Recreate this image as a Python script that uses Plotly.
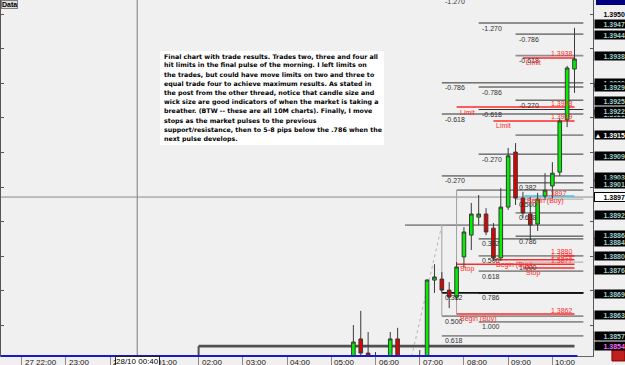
import plotly.graph_objects as go

# ---------------- data ----------------
# bar times in minutes after 27 Oct 22:00 (10-minute bars)
bar_time = [450, 460, 470, 480, 500, 510, 540, 550, 560, 570, 580, 590, 600, 610,
            620, 630, 640, 650, 660, 670, 680, 690, 700, 710, 720, 730, 740, 750]
bar_open = [1.38480, 1.38561, 1.38520, 1.38494, 1.38490, 1.38561, 1.38480, 1.38471,
            1.38731, 1.38734, 1.38702, 1.38682, 1.38798, 1.38861, 1.38913, 1.38922,
            1.38881, 1.38795, 1.38942, 1.39101, 1.38968, 1.38922, 1.38893, 1.38974,
            1.39003, 1.39043, 1.39194, 1.39341]
bar_high = [1.38601, 1.38642, 1.38581, 1.38523, 1.38581, 1.38593, 1.38529, 1.38734,
            1.38777, 1.38754, 1.38725, 1.38783, 1.38884, 1.38954, 1.38977, 1.38939,
            1.38896, 1.38997, 1.39113, 1.39127, 1.38986, 1.38971, 1.38983, 1.39040,
            1.39072, 1.39199, 1.39350, 1.39460]
bar_low = [1.38460, 1.38490, 1.38480, 1.38470, 1.38470, 1.38480, 1.38460, 1.38465,
           1.38694, 1.38694, 1.38650, 1.38673, 1.38766, 1.38818, 1.38890, 1.38861,
           1.38786, 1.38786, 1.38934, 1.38948, 1.38910, 1.38847, 1.38873, 1.38962,
           1.38968, 1.39032, 1.39173, 1.39272]
bar_close = [1.38552, 1.38520, 1.38506, 1.38483, 1.38561, 1.38500, 1.38500, 1.38731,
             1.38740, 1.38702, 1.38682, 1.38769, 1.38870, 1.38922, 1.38922, 1.38870,
             1.38795, 1.38942, 1.39090, 1.38968, 1.38925, 1.38890, 1.38965, 1.38991,
             1.39040, 1.39191, 1.39344, 1.39370]

# fibonacci levels (price, start time, label, kind)
fib_price = [1.39553, 1.39474, 1.39442, 1.39380, 1.39301, 1.39289, 1.39251, 1.39224,
             1.39211, 1.39150, 1.39095, 1.39032, 1.39012, 1.38991, 1.38965, 1.38925,
             1.38890, 1.38850, 1.38858, 1.38801, 1.38783, 1.38757, 1.38694, 1.38694,
             1.38627, 1.38610, 1.38570, 1.38540]
fib_start = [570, 620, 670, 670, 570, 620, 670, 620, 570, 670, 620, 570, 670, 590,
             670, 670, 520, 620, 670, 620, 670, 620, 570, 620, 570, 620, 570, 240]
fib_label = ["-1.270", "-1.270", "-0.786", "-0.618", "-0.786", "-0.786", "-0.270",
             "-0.618", "-0.618", "", "-0.270", "-0.270", "0.382", "", "0.500", "0.618",
             "", "0.382", "0.786", "0.500", "1.000", "0.618", "0.382", "0.786", "0.500",
             "1.000", "0.618", ""]
fib_kind = ["dark", "gray", "dark", "gray", "dark", "dark", "dark", "dark", "dark",
            "gray", "dark", "dark", "dark", "gray", "light", "gray", "gray", "dark",
            "dark", "gray", "light", "gray", "heavy", "heavy", "gray", "gray", "gray",
            "base"]

# pending orders (red lines)
order_price = [1.39373, 1.39231, 1.39191, 1.38801, 1.38790, 1.38777, 1.38766, 1.38633]
order_start = [680, 590, 640, 735, 640, 590, 680, 590]
order_left = ["Limit", "Limit", "Limit", "", "Begin (Buy)", "Stop", "Stop", "Begin (Buy)"]
order_right = ["1.3938", "1.3923", "1.3919", "1.3880", "1.3879", "1.3877", "", "1.3862"]
entry_price, entry_start = 1.38974, 682

# fib anchors / trend line
anchor_time = [570, 590]
anchor_top = [1.38890, 1.38991]
anchor_bottom = [1.38627, 1.38633]
trend_x = [529, 570]
trend_y = [1.38510, 1.38890]

# right-axis price boxes
axis_prices = [1.3947, 1.3944, 1.3938, 1.3930, 1.3929, 1.3925, 1.3921, 1.3922, 1.3909,
               1.3903, 1.3901, 1.3892, 1.3884, 1.3886, 1.3880, 1.3876, 1.3869, 1.3863,
               1.3857]
bid_price = 1.3915
low_price = 1.3854
top_tick = 1.3950

hour_ticks = [0, 60, 120, 180, 240, 300, 360, 420, 480, 540, 600, 660, 720]
hour_labels = ["27 22:00", "23:00", "28 00:00", "01:00", "02:00", "03:00", "04:00",
               "05:00", "06:00", "07:00", "08:00", "09:00", "10:00"]
cross_time, cross_price = 156.7, 1.38971
cross_time_text = "28/10 00:40"

note_lines = [
    "Final chart with trade results. Trades two, three and four all",
    "hit limits in the final pulse of the morning. I left limits on",
    "the trades, but could have move limits on two and three to",
    "equal trade four to achieve maximum results. As stated in",
    "the post from the other thread, notice that candle size and",
    "wick size are good indicators of when the market is taking a",
    "breather. (BTW -- these are all 10M charts). Finally, I move",
    "stops as the market pulses to the previous",
    "support/resistance, then to 5-8 pips below the .786 when the",
    "next pulse develops.",
]

# ---------------- figure ----------------
Y_LO, Y_HI = 1.385116, 1.395405
X_LO, X_HI = -28.1, 775.1
LINE_END = 762
LAST_BAR = 750
FONT = "Liberation Sans"
BG = "#f0f0f0"
PLOT_H = 356.0

fig = go.Figure()
fig.add_trace(go.Candlestick(
    x=bar_time, open=bar_open, high=bar_high, low=bar_low, close=bar_close,
    increasing=dict(fillcolor="#00f000", line=dict(color="#3a3a3a", width=1)),
    decreasing=dict(fillcolor="#e00000", line=dict(color="#3a3a3a", width=1)),
    whiskerwidth=0, showlegend=False, hoverinfo="skip"))

styles = {
    "dark": ("#303030", 1),
    "gray": ("#8e8e8e", 1.8),
    "light": ("#a8a8a8", 1),
    "heavy": ("#101010", 1.6),
    "base": ("#505050", 2.6),
}

shapes = []
annotations = []


def hline(p, x0, x1, color, width, dash="solid"):
    shapes.append(dict(type="line", xref="x", yref="y", x0=x0, x1=x1, y0=p, y1=p,
                       line=dict(color=color, width=width, dash=dash), layer="below"))


def label(x, y, text, color="#303030", xanchor="left", yshift=-5, xshift=1, size=7):
    annotations.append(dict(x=x, y=y, xref="x", yref="y", text=text, showarrow=False,
                            xanchor=xanchor, yanchor="middle", xshift=xshift, yshift=yshift,
                            font=dict(family=FONT, size=size, color=color)))


# crosshair
shapes.append(dict(type="line", xref="x", yref="paper", x0=cross_time, x1=cross_time,
                   y0=0, y1=1, line=dict(color="#7a7a7a", width=1), layer="below"))
shapes.append(dict(type="line", xref="paper", yref="y", x0=0, x1=1, y0=cross_price,
                   y1=cross_price, line=dict(color="#8a8a8a", width=1), layer="below"))

# fib levels
for p, s, t, k in zip(fib_price, fib_start, fib_label, fib_kind):
    c, w = styles[k]
    end = LAST_BAR if k == "base" else LINE_END
    hline(p, s, end, c, w)
    if k == "base":
        shapes.append(dict(type="line", xref="x", yref="y", x0=s, x1=s, y0=p, y1=Y_LO - 0.0002,
                           line=dict(color=c, width=2), layer="below"))
    if t:
        if p > Y_HI:
            label(s, Y_HI - 0.00005, t, yshift=0)
        else:
            label(s, p, t)

# anchors
for t, a, b in zip(anchor_time, anchor_top, anchor_bottom):
    shapes.append(dict(type="line", xref="x", yref="y", x0=t, x1=t, y0=a, y1=b,
                       line=dict(color="#a0a0a0", width=1), layer="below"))
shapes.append(dict(type="line", xref="x", yref="y", x0=trend_x[0], x1=trend_x[1],
                   y0=trend_y[0], y1=trend_y[1],
                   line=dict(color="#b4b4b4", width=1, dash="dot"), layer="below"))

# orders
RED = "#ff2a2a"
for p, s, lt, rt in zip(order_price, order_start, order_left, order_right):
    hline(p, s, LAST_BAR, RED, 1.5)
    if lt:
        label(s, p, lt, color=RED)
    if rt:
        label(LAST_BAR, p, rt, color=RED, xanchor="right", yshift=4, xshift=0)
hline(entry_price, entry_start, LAST_BAR, "#3cc8e6", 1.5)
label(entry_start, entry_price, "Begin (Buy)", color=RED)
label(LAST_BAR - 8, entry_price, "1.3897", color=RED, xanchor="right", yshift=3, xshift=0)

# bottom blue line
shapes.append(dict(type="line", xref="x", yref="paper", x0=X_LO, x1=LAST_BAR + 4, y0=0, y1=0,
                   line=dict(color="#1a1acc", width=2.2)))

# note box (white panel + one text row per line)
shapes.append(dict(type="rect", xref="paper", yref="paper",
                   x0=159 / 592, x1=383 / 592, y0=(PLOT_H - 145) / PLOT_H,
                   y1=(PLOT_H - 51) / PLOT_H, fillcolor="white", line=dict(width=0),
                   layer="above"))
for i, s in enumerate(note_lines):
    annotations.append(dict(
        x=161 / 592, y=(PLOT_H - (56.3 + 9.2 * i)) / PLOT_H, xref="paper", yref="paper",
        xanchor="left", yanchor="middle", align="left", showarrow=False,
        text="<b>%s</b>" % s,
        font=dict(family="DejaVu Sans", size=6.3, color="#000000")))

# time labels
for t, s in zip(hour_ticks, hour_labels):
    annotations.append(dict(x=t, y=0, xref="x", yref="paper", xanchor="left", yanchor="top",
                            xshift=1, yshift=0, text=s, showarrow=False,
                            font=dict(family=FONT, size=8, color="#222222")))
annotations.append(dict(x=cross_time, y=0, xref="x", yref="paper", xanchor="center",
                        yanchor="top", yshift=0, text=cross_time_text, showarrow=False,
                        bgcolor="white", bordercolor="#222222", borderwidth=1, borderpad=0,
                        font=dict(family=FONT, size=8, color="#000000")))


def price_box(p, text, fg, bg, border=None):
    d = dict(x=1, y=p, xref="paper", yref="y", xanchor="left", yanchor="middle",
             xshift=1, text="<b>%s</b>" % text, showarrow=False, width=30, height=8,
             align="right", bgcolor=bg, borderpad=0,
             font=dict(family=FONT, size=7, color=fg))
    if border:
        d.update(bordercolor=border, borderwidth=1)
    annotations.append(d)


for p in axis_prices:
    price_box(p, "%.4f" % p, "#9fcfcf", "#000000")
price_box(bid_price, "\u25b2 %.4f" % bid_price, "#ffffff", "#000000")
price_box(low_price, "%.4f" % low_price, "#ff66ff", "#000000")
price_box(cross_price, "%.4f" % cross_price, "#000000", "#ffffff", border="#000000")
price_box(top_tick, "%.4f" % top_tick, "#000000", BG)

# INDEX tag and corner icon
shapes.append(dict(type="rect", xref="paper", yref="paper", x0=1.005, x1=1.06, y0=0.986,
                   y1=1.0, fillcolor="#000080", line=dict(width=0)))
shapes.append(dict(type="rect", xref="paper", yref="paper", x0=1.032, x1=1.054, y0=-0.014,
                   y1=0.017, fillcolor="#c02020", line=dict(color="#800000", width=1)))

# Data tag
annotations.append(dict(x=0, y=1, xref="paper", yref="paper", xanchor="left", yanchor="top",
                        text="<b>Data</b>", showarrow=False, bgcolor="#dedede",
                        bordercolor="#808080", borderwidth=1, borderpad=0,
                        font=dict(family=FONT, size=7, color="#000000")))

fig.update_layout(
    width=625, height=365,
    margin=dict(l=1, r=32, t=0, b=9, pad=0),
    paper_bgcolor=BG, plot_bgcolor=BG,
    shapes=shapes, annotations=annotations,
    showlegend=False,
    xaxis=dict(range=[X_LO, X_HI], showgrid=False, zeroline=False, showline=True,
               linecolor="#666666", linewidth=1, ticks="outside", ticklen=9,
               tickcolor="#8a8a8a", tickvals=hour_ticks, showticklabels=False,
               rangeslider=dict(visible=False), fixedrange=True),
    yaxis=dict(range=[Y_LO, Y_HI], side="right", showgrid=False, zeroline=False,
               showline=True, linecolor="#555555", linewidth=1, mirror="ticks",
               ticks="inside", ticklen=3, tickcolor="#555555", dtick=0.001, tick0=1.385,
               showticklabels=False, fixedrange=True),
)

fig.write_html("out.html", config={"displayModeBar": False},
               post_script="document.body.style.margin='0';")
